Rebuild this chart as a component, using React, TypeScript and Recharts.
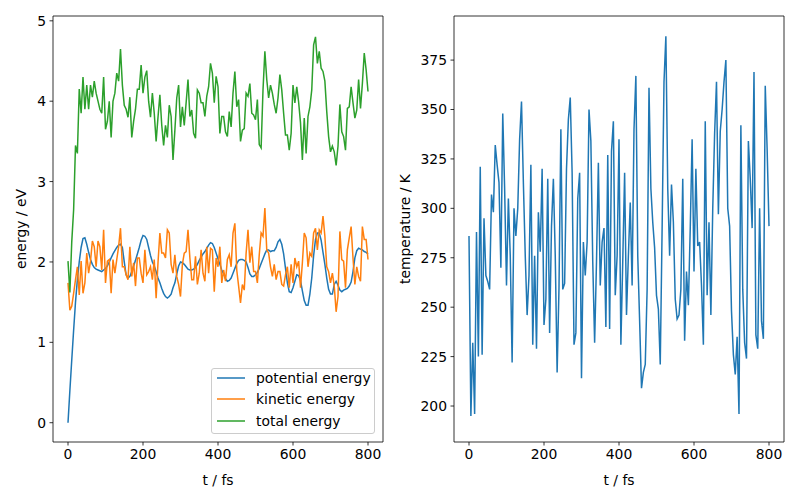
import * as React from 'react';
import { LineChart, Line, XAxis, YAxis, ReferenceArea, Label } from 'recharts';

// sampled every 5 fs, 0..800
const STEP_FS = 5;

const POTENTIAL_EV = [
  0.0, 0.4, 0.78, 1.15, 1.5, 1.78, 2.0, 2.18, 2.29, 2.3,
  2.22, 2.12, 2.03, 1.97, 1.93, 1.91, 1.9, 1.89, 1.88, 1.9,
  1.92, 1.95, 2.0, 2.05, 2.1, 2.14, 2.18, 2.21, 2.22, 2.18,
  2.0, 1.84, 1.8, 1.82, 1.88, 1.95, 2.02, 2.1, 2.18, 2.27,
  2.33, 2.32, 2.28, 2.18, 2.08, 2.0, 1.95, 1.88, 1.8, 1.74,
  1.67, 1.61, 1.57, 1.55, 1.57, 1.6, 1.68, 1.74, 1.85, 1.95,
  2.0, 1.99, 1.97, 1.94, 1.91, 1.9, 1.9, 1.91, 1.93, 1.97,
  2.02, 2.06, 2.1, 2.13, 2.17, 2.21, 2.24, 2.23, 2.18, 2.11,
  2.04, 1.97, 1.9, 1.85, 1.79, 1.76, 1.77, 1.8, 1.86, 1.92,
  1.98, 2.02, 2.03, 2.03, 2.02, 2.0, 1.93, 1.85, 1.82, 1.82,
  1.84, 1.87, 1.92, 1.98, 2.04, 2.1, 2.15, 2.15, 2.13, 2.14,
  2.14, 2.18, 2.25, 2.28, 2.22, 2.1, 1.92, 1.74, 1.63, 1.62,
  1.68, 1.76, 1.84, 1.83, 1.77, 1.64, 1.52, 1.46, 1.46, 1.6,
  1.8, 2.08, 2.28, 2.36, 2.36, 2.27, 2.12, 1.97, 1.8, 1.66,
  1.6, 1.6, 1.72, 1.76, 1.71, 1.65, 1.63, 1.65, 1.66, 1.67,
  1.7, 1.75, 1.88, 2.05, 2.14, 2.17, 2.16, 2.15, 2.13, 2.12,
  2.1,
];

const KINETIC_EV = [
  1.74, 1.4, 1.45, 1.61, 1.78, 1.94, 1.59, 2.01, 1.61, 1.74,
  2.11, 1.86, 2.01, 2.26, 2.19, 1.94, 2.26, 2.19, 1.9, 2.4,
  1.74, 2.01, 2.03, 1.61, 2.03, 1.86, 2.03, 2.19, 2.42, 1.94,
  1.94, 1.84, 1.78, 2.19, 1.82, 1.99, 1.7, 2.05, 2.05, 1.86,
  1.74, 2.15, 1.84, 1.88, 1.94, 1.78, 2.03, 1.55, 1.99, 2.36,
  2.11, 2.11, 2.05, 2.4, 2.36, 1.97, 1.86, 2.09, 1.82, 1.72,
  1.57, 1.97, 2.11, 2.13, 2.4, 2.05, 1.78, 1.78, 2.07, 1.72,
  1.86, 2.15, 1.86, 1.76, 2.19, 1.86, 2.17, 2.15, 1.63, 2.05,
  1.94, 2.19, 1.74, 1.9, 1.76, 2.03, 2.09, 1.94, 2.36, 2.48,
  1.9, 1.7, 1.49, 1.72, 1.65, 2.11, 2.4, 1.99, 2.19, 1.88,
  1.88, 1.74, 2.09, 2.36, 2.32, 2.67, 2.15, 2.11, 1.94, 1.82,
  1.97, 1.78, 1.88, 1.88, 1.72, 1.7, 1.84, 1.94, 1.68, 1.97,
  1.74, 2.05, 1.94, 2.01, 1.68, 1.99, 2.36, 2.3, 1.94, 2.11,
  2.07, 2.36, 2.42, 2.15, 2.4, 2.36, 2.57, 2.32, 1.94, 1.88,
  1.74, 1.86, 1.7, 1.38, 1.57, 2.38, 2.03, 2.01, 1.68, 2.15,
  2.3, 2.44, 2.05, 1.72, 1.94, 1.82, 1.76, 2.44, 2.28, 2.28,
  2.03,
];

const TOTAL_EV = [
  2.01, 1.62, 2.25, 2.65, 3.45, 3.35, 4.15, 3.85, 4.3, 3.9,
  4.2, 3.9, 4.2, 4.05, 4.25, 4.1, 4.0, 3.9, 3.85, 4.3,
  3.65, 3.75, 4.0, 3.55, 4.0, 4.1, 4.35, 4.25, 4.65, 4.2,
  3.95, 3.9, 3.8, 4.05, 3.55, 3.75, 3.9, 4.15, 4.15, 4.45,
  4.1, 4.3, 4.38, 4.0, 3.8, 4.1, 3.85, 3.5, 3.8, 4.08,
  3.7, 3.45, 3.7, 3.55, 3.95, 3.81, 3.27, 3.64, 4.04, 4.2,
  3.68, 3.93, 3.7, 3.98, 4.27, 3.81, 3.89, 3.6, 3.54, 4.14,
  4.1, 3.98, 3.98, 3.81, 4.06, 4.18, 4.47, 4.35, 3.98, 4.31,
  4.18, 3.6, 3.81, 3.81, 3.62, 3.56, 3.87, 3.68, 4.1, 4.37,
  3.93, 4.02, 3.5, 3.64, 3.66, 4.1, 4.06, 4.22, 3.85, 3.83,
  3.77, 4.02, 3.46, 3.42, 4.14, 4.62, 4.27, 4.04, 4.2, 4.1,
  3.96, 3.85, 4.04, 4.33, 4.14, 3.85, 3.58, 3.58, 3.39, 3.6,
  4.2, 3.98, 4.18, 3.99, 3.73, 3.27, 3.79, 3.35, 3.81, 3.93,
  4.14, 4.7, 4.8, 4.47, 4.62, 4.41, 4.37, 4.25, 3.87, 3.56,
  3.37, 3.44, 3.37, 3.2, 3.44, 3.96, 3.62, 3.56, 3.39, 3.91,
  3.93, 4.18, 3.98, 3.79, 3.89, 4.27, 3.91, 4.22, 4.6, 4.39,
  4.12,
];

const TEMPERATURE_K = [
  286, 195, 232, 196, 288, 225, 321, 226, 295, 266,
  263, 259, 307, 298, 332, 322, 313, 270, 348, 310,
  261, 305, 276, 222, 300, 286, 300, 335, 354, 313,
  276, 246, 266, 322, 231, 276, 229, 298, 278, 320,
  241, 254, 315, 237, 291, 315, 276, 217, 260, 340,
  259, 262, 320, 345, 356, 318, 231, 237, 305, 318,
  214, 283, 266, 283, 350, 334, 273, 232, 273, 323,
  261, 283, 290, 240, 327, 239, 329, 344, 256, 276,
  335, 231, 273, 318, 246, 276, 303, 261, 340, 367,
  276, 243, 209, 217, 221, 259, 361, 310, 293, 280,
  256, 249, 221, 290, 364, 387, 310, 276, 312, 293,
  254, 244, 246, 259, 315, 233, 268, 251, 290, 335,
  268, 320, 281, 283, 261, 231, 344, 256, 293, 246,
  300, 338, 364, 297, 339, 350, 364, 375, 300, 291,
  248, 226, 216, 235, 196, 342, 259, 232, 224, 334,
  315, 290, 369, 236, 229, 300, 243, 234, 362, 330,
  291,
];

const TIME_TICKS = [0, 200, 400, 600, 800];
const ENERGY_TICKS = [0, 1, 2, 3, 4, 5];
const TEMP_TICKS = [200, 225, 250, 275, 300, 325, 350, 375];

const SERIES = [
  { key: 'potential', name: 'potential energy', color: '#1f77b4' },
  { key: 'kinetic', name: 'kinetic energy', color: '#ff7f0e' },
  { key: 'total', name: 'total energy', color: '#2ca02c' },
];

const X_DOMAIN: [number, number] = [-40, 840];
const E_DOMAIN: [number, number] = [-0.24, 5.06];
const T_DOMAIN: [number, number] = [181.8, 397.3];

const FONT = 13.9;
const tickStyle = { fill: '#000', fontSize: FONT };
const tickLineStyle = { stroke: '#000', strokeWidth: 0.8 };

const time = POTENTIAL_EV.map((_, i) => i * STEP_FS);
const energyRows = time.map((t, i) => ({
  t,
  potential: POTENTIAL_EV[i],
  kinetic: KINETIC_EV[i],
  total: TOTAL_EV[i],
}));
const tempRows = time.map((t, i) => ({ t, temp: TEMPERATURE_K[i] }));

function yTitle(text: string, x: number) {
  return () => (
    <text
      x={x}
      y={229}
      transform={`rotate(-90, ${x}, 229)`}
      textAnchor="middle"
      dominantBaseline="central"
      fill="#000"
      fontSize={FONT}
    >
      {text}
    </text>
  );
}

function TimeAxis() {
  return (
    <XAxis
      dataKey="t"
      type="number"
      domain={X_DOMAIN}
      allowDataOverflow
      ticks={TIME_TICKS}
      tick={tickStyle}
      tickLine={tickLineStyle}
      tickSize={3.5}
      tickMargin={4}
      axisLine={false}
      height={58}
    >
      <Label value="t / fs" position="insideBottom" offset={15} fill="#000" fontSize={FONT} />
    </XAxis>
  );
}

function EnergyLegend() {
  return (
    <div
      style={{
        position: 'absolute',
        left: 211,
        top: 368,
        width: 162,
        height: 64,
        border: '1px solid #cccccc',
        borderRadius: 3,
        background: 'rgba(255,255,255,0.8)',
        fontSize: FONT,
        color: '#000',
      }}
    >
      {SERIES.map((s, i) => (
        <div
          key={s.key}
          style={{ position: 'absolute', left: 4, top: -1 + i * 21.4, height: 20, display: 'flex', alignItems: 'center' }}
        >
          <svg width={30} height={4} style={{ marginRight: 10 }}>
            <line x1={1} y1={2} x2={29} y2={2} stroke={s.color} strokeWidth={1.5} />
          </svg>
          <span style={{ whiteSpace: 'nowrap' }}>{s.name}</span>
        </div>
      ))}
    </div>
  );
}

export default function App() {
  return (
    <div
      style={{
        position: 'absolute',
        left: 0,
        top: 0,
        width: 800,
        height: 500,
        background: '#fff',
        fontFamily: '"DejaVu Sans", sans-serif',
      }}
    >
      <div style={{ position: 'absolute', left: 0, top: 0 }}>
        <LineChart width={400} height={500} data={energyRows} margin={{ top: 16, right: 17, left: 0, bottom: 0 }}>
          {TimeAxis()}
          <YAxis
            type="number"
            domain={E_DOMAIN}
            allowDataOverflow
            ticks={ENERGY_TICKS}
            tick={tickStyle}
            tickLine={tickLineStyle}
            tickSize={3.5}
            tickMargin={3.5}
            axisLine={false}
            width={53}
          >
            <Label content={yTitle('energy / eV', 21)} />
          </YAxis>
          {SERIES.map((s) => (
            <Line
              key={s.key}
              type="linear"
              dataKey={s.key}
              name={s.name}
              stroke={s.color}
              strokeWidth={1.5}
              dot={false}
              activeDot={false}
              isAnimationActive={false}
            />
          ))}
          <ReferenceArea
            x1={X_DOMAIN[0]}
            x2={X_DOMAIN[1]}
            y1={E_DOMAIN[0]}
            y2={E_DOMAIN[1]}
            fill="none"
            stroke="#000"
            strokeWidth={0.8}
            ifOverflow="visible"
          />
        </LineChart>
        <EnergyLegend />
      </div>
      <div style={{ position: 'absolute', left: 390, top: 0 }}>
        <LineChart width={410} height={500} data={tempRows} margin={{ top: 16, right: 16, left: 0, bottom: 0 }}>
          {TimeAxis()}
          <YAxis
            type="number"
            domain={T_DOMAIN}
            allowDataOverflow
            ticks={TEMP_TICKS}
            tick={tickStyle}
            tickLine={tickLineStyle}
            tickSize={3.5}
            tickMargin={3.5}
            axisLine={false}
            width={64}
          >
            <Label content={yTitle('temperature / K', 15)} />
          </YAxis>
          <Line
            type="linear"
            dataKey="temp"
            stroke="#1f77b4"
            strokeWidth={1.5}
            dot={false}
            activeDot={false}
            isAnimationActive={false}
          />
          <ReferenceArea
            x1={X_DOMAIN[0]}
            x2={X_DOMAIN[1]}
            y1={T_DOMAIN[0]}
            y2={T_DOMAIN[1]}
            fill="none"
            stroke="#000"
            strokeWidth={0.8}
            ifOverflow="visible"
          />
        </LineChart>
      </div>
    </div>
  );
}
